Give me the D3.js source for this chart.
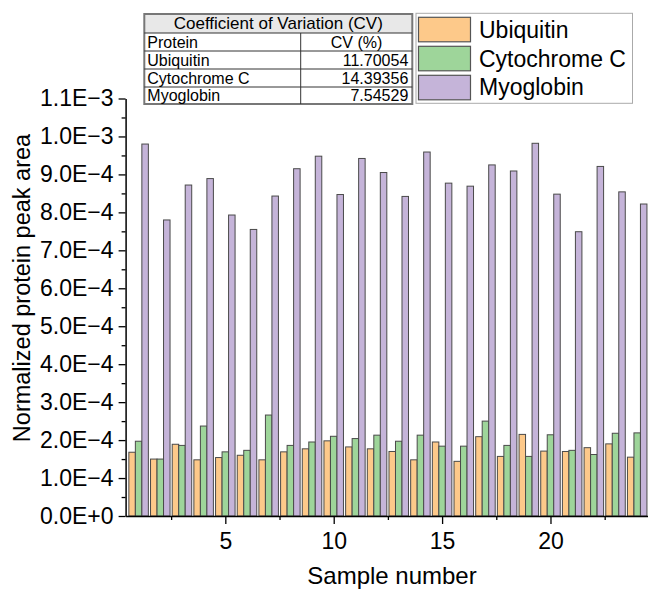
<!DOCTYPE html>
<html>
<head>
<meta charset="utf-8">
<script src="https://cdn.jsdelivr.net/npm/d3@7"></script>
<style>
  html, body { margin: 0; padding: 0; background: #fff; }
  svg { display: block; font-family: "Liberation Sans", Arial, sans-serif; }
</style>
</head>
<body>
<svg id="chart" width="648" height="595"></svg>
<script>
// ---- data ----
const samples = [1,2,3,4,5,6,7,8,9,10,11,12,13,14,15,16,17,18,19,20,21,22,23,24];
const seriesNames = ["Ubiquitin", "Cytochrome C", "Myoglobin"];
const ubiquitin = [1.68,1.50,1.89,1.48,1.54,1.60,1.48,1.69,1.77,1.98,1.82,1.77,1.70,1.48,1.95,1.44,2.09,1.57,2.15,1.71,1.70,1.80,1.90,1.55].map(v => v * 1e-4);
const cytochromeC = [1.97,1.50,1.86,2.37,1.69,1.73,2.66,1.86,1.95,2.10,2.04,2.13,1.97,2.13,1.84,1.84,2.50,1.86,1.57,2.14,1.73,1.62,2.18,2.19].map(v => v * 1e-4);
const myoglobin = [9.80,7.80,8.72,8.89,7.93,7.55,8.43,9.15,9.48,8.47,9.42,9.05,8.42,9.59,8.77,8.69,9.25,9.09,9.82,8.48,7.49,9.21,8.54,8.22].map(v => v * 1e-4);
const yTickValues = [0,1e-4,2e-4,3e-4,4e-4,5e-4,6e-4,7e-4,8e-4,9e-4,1.0e-3,1.1e-3];
const yTickLabels = ["0.0E+0","1.0E\u22124","2.0E\u22124","3.0E\u22124","4.0E\u22124","5.0E\u22124","6.0E\u22124","7.0E\u22124","8.0E\u22124","9.0E\u22124","1.0E\u22123","1.1E\u22123"];
const xTickValues = [5,10,15,20];
const xMinorTicks = [2.5,7.5,12.5,17.5,22.5];
const cvHeader = ["Protein", "CV (%)"];
const cvProteins = ["Ubiquitin", "Cytochrome C", "Myoglobin"];
const cvValues = ["11.70054", "14.39356", "7.54529"];
const tableTitle = "Coefficient of Variation (CV)";

const colors = ["#FDC98A", "#9ED59A", "#C5B4D9"];
const seriesData = [ubiquitin, cytochromeC, myoglobin];

// ---- scales ----
const svg = d3.select("#chart");
const x = d3.scaleLinear().domain([0.4, 24.6]).range([125.6, 650.2]);
const y = d3.scaleLinear().domain([0, 1.1e-3]).range([516, 98.5]);
const barW = x(0.3) - x(0);

// ---- bars ----
const gBars = svg.append("g");
seriesData.forEach((vals, si) => {
  gBars.selectAll(null)
    .data(samples.map((s, i) => ({ s, v: vals[i] })))
    .enter().append("rect")
    .attr("x", d => x(d.s + (si - 1) * 0.3) - barW / 2)
    .attr("width", barW)
    .attr("y", d => y(d.v))
    .attr("height", d => y(0) - y(d.v))
    .attr("fill", colors[si])
    .attr("stroke", "#4a4a4a")
    .attr("stroke-width", 1);
});

// ---- axes ----
const yAxis = d3.axisLeft(y).tickValues(yTickValues)
  .tickFormat((d, i) => yTickLabels[i]).tickSize(7).tickSizeOuter(0).tickPadding(5);
svg.append("g").attr("transform", `translate(${x(0.4)},0)`).call(yAxis);
const yMinor = d3.axisLeft(y).tickValues(d3.range(0.5e-4, 1.1e-3, 1e-4))
  .tickFormat("").tickSize(4).tickSizeOuter(0);
svg.append("g").attr("transform", `translate(${x(0.4)},0)`).call(yMinor).select(".domain").remove();

const xAxis = d3.axisBottom(x).tickValues(xTickValues).tickSize(8).tickSizeOuter(0).tickPadding(9);
svg.append("g").attr("transform", `translate(0,${y(0)})`).call(xAxis);
const xMinor = d3.axisBottom(x).tickValues(xMinorTicks).tickFormat("").tickSize(4).tickSizeOuter(0);
svg.append("g").attr("transform", `translate(0,${y(0)})`).call(xMinor).select(".domain").remove();

svg.selectAll(".domain").attr("stroke", "#000").attr("stroke-width", 1.5);
svg.selectAll(".tick line").attr("stroke", "#000").attr("stroke-width", 1.3);
svg.selectAll(".tick text").attr("font-family", "Liberation Sans, Arial, sans-serif")
  .attr("font-size", 23).attr("fill", "#000");

// ---- axis titles ----
svg.append("text").attr("x", 392).attr("y", 584).attr("text-anchor", "middle")
  .attr("font-size", 24).text("Sample number");
svg.append("text").attr("transform", "translate(30,288) rotate(-90)")
  .attr("text-anchor", "middle").attr("font-size", 23.5).text("Normalized protein peak area");

// ---- CV table ----
const tbl = svg.append("g");
const tL = 144.3, tR = 412.3, tMid = 300.7;
const rowY = [14, 33, 51, 69, 87, 104];
tbl.append("rect").attr("x", tL).attr("y", rowY[0]).attr("width", tR - tL).attr("height", rowY[1] - rowY[0])
  .attr("fill", "#e8e8e8");
tbl.append("rect").attr("x", tL).attr("y", rowY[0]).attr("width", tR - tL).attr("height", rowY[5] - rowY[0])
  .attr("fill", "none").attr("stroke", "#777").attr("stroke-width", 2);
rowY.slice(1, 5).forEach(yy => {
  tbl.append("line").attr("x1", tL).attr("x2", tR).attr("y1", yy).attr("y2", yy)
    .attr("stroke", "#333").attr("stroke-width", 1);
});
tbl.append("line").attr("x1", tMid).attr("x2", tMid).attr("y1", rowY[1]).attr("y2", rowY[5])
  .attr("stroke", "#333").attr("stroke-width", 1);
const fs = 16;
const titleFs = 17;
tbl.append("text").attr("x", (tL + tR) / 2).attr("y", rowY[1] - 4).attr("text-anchor", "middle")
  .attr("font-size", titleFs).text(tableTitle);
tbl.append("text").attr("x", tL + 3).attr("y", rowY[2] - 3.5).attr("font-size", fs).text(cvHeader[0]);
tbl.append("text").attr("x", (tMid + tR) / 2).attr("y", rowY[2] - 3.5).attr("text-anchor", "middle")
  .attr("font-size", fs).text(cvHeader[1]);
cvProteins.forEach((p, i) => {
  tbl.append("text").attr("x", tL + 3).attr("y", rowY[i + 3] - 3.5).attr("font-size", fs).text(p);
  tbl.append("text").attr("x", tR - 4).attr("y", rowY[i + 3] - 3.5).attr("text-anchor", "end")
    .attr("font-size", fs).text(cvValues[i]);
});

// ---- legend ----
const lg = svg.append("g");
lg.append("rect").attr("x", 416).attr("y", 13.3).attr("width", 216.5).attr("height", 90)
  .attr("fill", "#fff").attr("stroke", "#aaa").attr("stroke-width", 1);
seriesNames.forEach((n, i) => {
  lg.append("rect").attr("x", 418.5).attr("y", 17.3 + i * 29).attr("width", 52).attr("height", 24.5)
    .attr("fill", colors[i]).attr("stroke", "#555").attr("stroke-width", 1.2);
  lg.append("text").attr("x", 479).attr("y", 38.3 + i * 28.5).attr("font-size", 23).text(n);
});
</script>
</body>
</html>
